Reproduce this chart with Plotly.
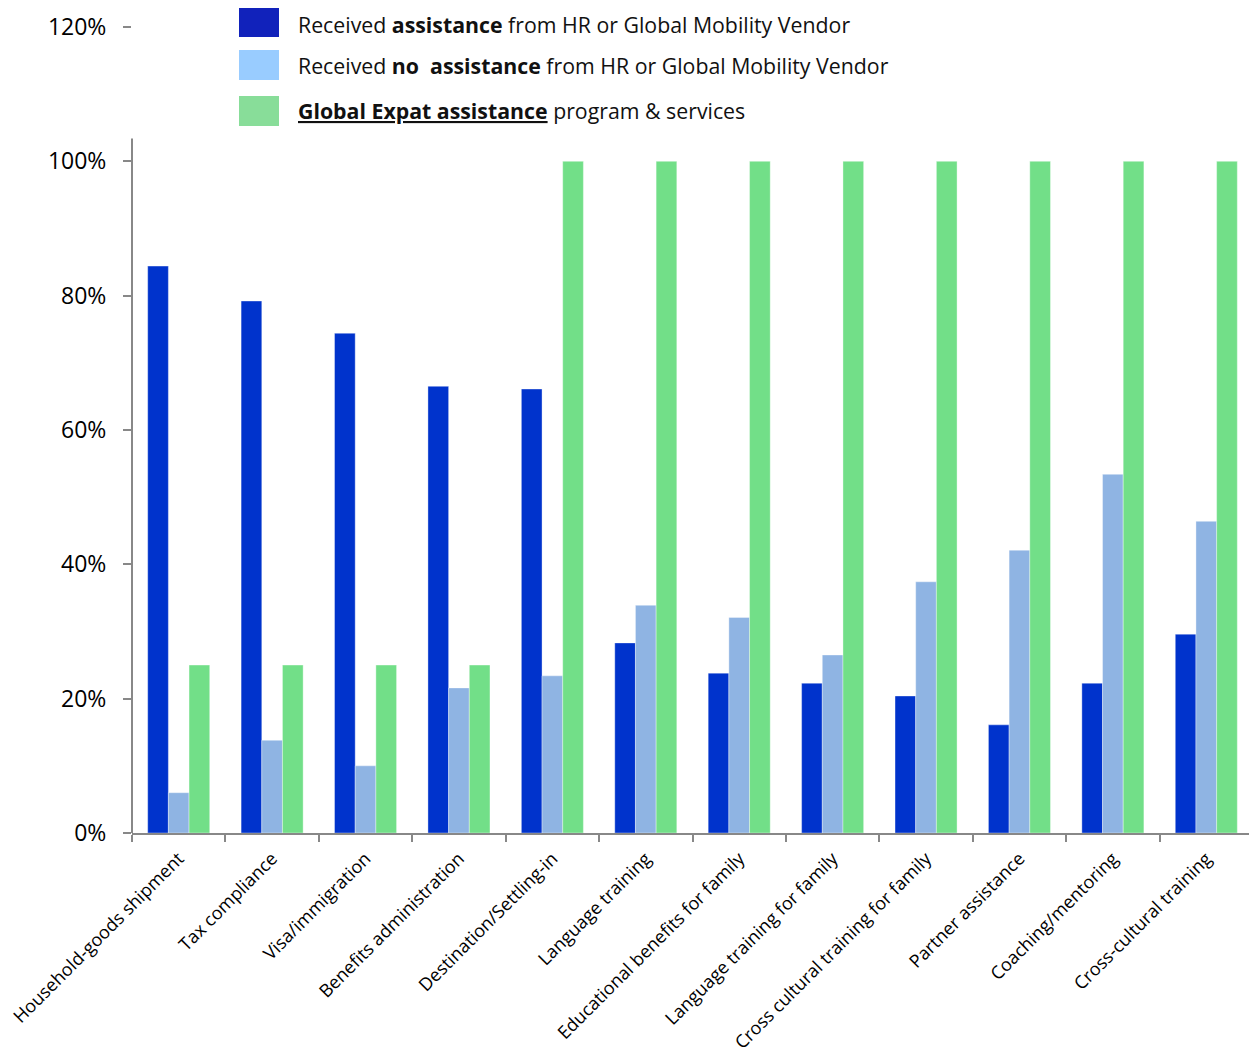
import plotly.graph_objects as go

categories = [
    "Household-goods shipment", "Tax compliance", "Visa/immigration",
    "Benefits administration", "Destination/Settling-in", "Language training",
    "Educational benefits for family", "Language training for family",
    "Cross cultural training for family", "Partner assistance",
    "Coaching/mentoring", "Cross-cultural training",
]
received_assistance = [84.4, 79.2, 74.4, 66.5, 66.1, 28.3, 23.8, 22.3, 20.4, 16.1, 22.3, 29.6]
no_assistance = [6.0, 13.8, 10.0, 21.6, 23.4, 33.9, 32.1, 26.5, 37.4, 42.1, 53.4, 46.4]
global_expat = [25, 25, 25, 25, 100, 100, 100, 100, 100, 100, 100, 100]

series_names = [
    "Received <b>assistance</b> from HR or Global Mobility Vendor",
    "Received <b>no&nbsp; assistance</b> from HR or Global Mobility Vendor",
    "<b><u>Global Expat assistance</u></b> program &amp; services",
]
bar_colors = ["#0033CC", "#8FB4E3", "#72DF88"]
swatch_colors = ["#1122BB", "#99CCFF", "#88DD99"]
y_ticks = [0, 20, 40, 60, 80, 100, 120]

FONT = "Open Sans"

fig = go.Figure()
for vals, col in zip([received_assistance, no_assistance, global_expat], bar_colors):
    fig.add_trace(go.Bar(
        x=categories, y=vals,
        marker=dict(color=col, line=dict(color="rgba(255,255,255,0.45)", width=0.8)),
        showlegend=False, hoverinfo="x+y",
    ))

# page offset (body margin) is 8px; target plot area in screen pixels
OFF = 8
W, H = 1257, 1057
PL, PR, PT, PB = 132, 1253, 27, 833
L, T = PL - OFF, PT - OFF
R = (OFF + W) - PR
B = (OFF + H) - PB
pw, ph = PR - PL, PB - PT

def px_x(x):
    return (x - PL) / pw

def px_y(y):
    return (PB - y) / ph

shapes = []
annotations = []
legend_rows = [(7, 37, 24), (50, 80, 66), (96, 126, 111)]
for (y0, y1, yc), name, sc in zip(legend_rows, series_names, swatch_colors):
    shapes.append(dict(type="rect", xref="paper", yref="paper",
                       x0=px_x(239), x1=px_x(279), y0=px_y(y1), y1=px_y(y0),
                       fillcolor=sc, line=dict(width=0)))
    annotations.append(dict(xref="paper", yref="paper", x=px_x(296), y=px_y(yc),
                            xanchor="left", yanchor="middle", text=name, showarrow=False,
                            font=dict(family=FONT, size=21.3, color="#111")))

# partial y-axis line (ends below the legend as in the original)
shapes.append(dict(type="line", xref="paper", yref="y", x0=0, x1=0, y0=0, y1=103.4,
                   line=dict(color="#888888", width=2)))

fig.update_layout(
    width=W, height=H,
    margin=dict(l=L, r=R, t=T, b=B),
    paper_bgcolor="white", plot_bgcolor="white",
    barmode="group", bargap=0.336, bargroupgap=0,
    font=dict(family=FONT, color="black"),
    shapes=shapes, annotations=annotations,
    xaxis=dict(
        automargin=False,
        showline=True, linecolor="#888888", linewidth=2,
        ticks="outside", tickson="boundaries", ticklen=7, tickcolor="#888888", tickwidth=2,
        tickangle=-45, tickfont=dict(family=FONT, size=18, color="black"),
        ticklabelstandoff=6,
        showgrid=False,
    ),
    yaxis=dict(
        automargin=False,
        range=[0, 120], tickvals=y_ticks, ticktext=[f"{v}%" for v in y_ticks],
        showline=False, showgrid=False, zeroline=False,
        ticks="outside", ticklen=8, tickcolor="#888888", tickwidth=2,
        tickfont=dict(family=FONT, size=23, color="black"), ticklabelstandoff=12,
    ),
)

fig.write_html("out.html")
